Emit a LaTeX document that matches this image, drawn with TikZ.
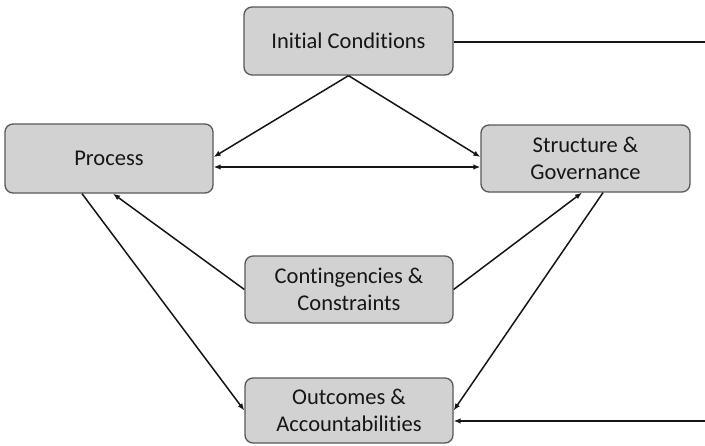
\documentclass[tikz,border=0pt]{standalone}
\usepackage{fontspec}
\setmainfont[Ligatures={NoCommon,NoContextual}]{Carlito}
\usetikzlibrary{arrows.meta}
\definecolor{boxfill}{HTML}{D2D2D2}
\definecolor{boxline}{HTML}{595959}
\definecolor{ink}{HTML}{161616}
\begin{document}
\begin{tikzpicture}[x=1pt,y=-1pt,
  block/.style={draw=boxline, fill=boxfill, line width=1.3pt, rounded corners=8pt,
    align=center, text=ink, inner sep=0pt,
    font=\fontsize{22.5}{27}\selectfont},
  link/.style={draw=ink, line width=1.5pt},
  arr/.style={link, -{Latex[length=7pt,width=5.5pt]}},
  biarr/.style={link, {Latex[length=7pt,width=5.5pt]}-{Latex[length=7pt,width=5.5pt]}}]
\useasboundingbox (0,0) rectangle (705,445);
\fill[white] (0,0) rectangle (705,445);

\node[block, minimum width=209pt, minimum height=68pt] (init) at (348.5,41) {Initial Conditions};
\node[block, minimum width=208pt, minimum height=69pt] (proc) at (109,158.5) {Process};
\node[block, minimum width=209pt, minimum height=67pt] (struct) at (585.5,158.5) {Structure \&\\Governance};
\node[block, minimum width=208pt, minimum height=67pt] (cont) at (349,289.5) {Contingencies \&\\Constraints};
\node[block, minimum width=208pt, minimum height=65pt] (out) at (349,410.5) {Outcomes \&\\Accountabilities};

\coordinate (edgeA) at (705,42);
\coordinate (edgeB) at (705,421);

% initial conditions feed process and structure
\draw[arr] (init.south) -- ([yshift=1.5pt]proc.east);
\draw[arr] (init.south) -- ([yshift=1.5pt]struct.west);
\draw[biarr] ([yshift=-8.5pt]proc.east) -- ([yshift=-8.5pt]struct.west);

% contingencies act on process and structure
\draw[arr] (cont.west) -- ([xshift=4pt]proc.south);
\draw[arr] (cont.east) -- ([xshift=-3.5pt]struct.south);

% process and structure lead to outcomes
\draw[arr] ([xshift=-27pt]proc.south) -- (out.west);
\draw[arr] ([xshift=17.5pt]struct.south) -- (out.east);

% loop running off the right edge
\draw[link] ([yshift=-1pt]init.east) -- (edgeA);
\draw[arr] (edgeB) -- ([yshift=-10.5pt]out.east);
\end{tikzpicture}
\end{document}
